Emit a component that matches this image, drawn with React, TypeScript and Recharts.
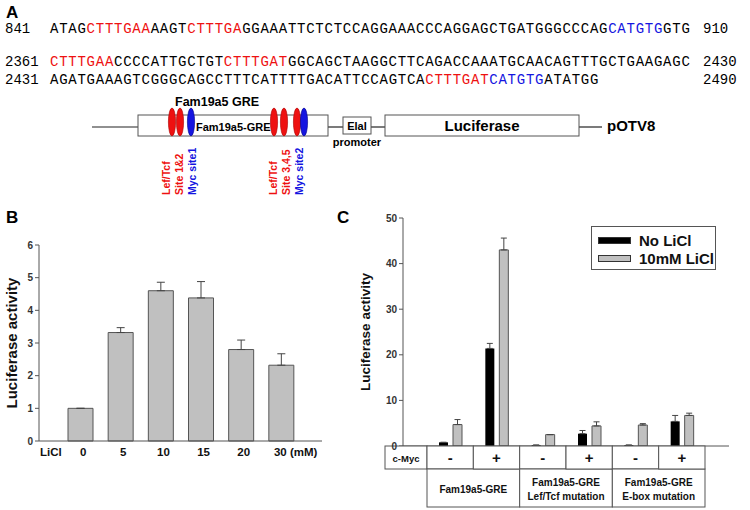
import React from 'react'
import { BarChart, Bar, XAxis, YAxis, ErrorBar, Legend } from 'recharts'

// panel B: LiCl dose response
const doses = ['0', '5', '10', '15', '20', '30']
const doseActivity = [1.0, 3.32, 4.6, 4.38, 2.8, 2.32]
const doseSem = [0, 0.15, 0.26, 0.5, 0.29, 0.35]
const doseTicks = [0, 1, 2, 3, 4, 5, 6]

// panel C: c-Myc x LiCl
const cMyc = ['-', '+', '-', '+', '-', '+']
const noLiCl = [0.8, 21.4, 0.2, 2.7, 0.2, 5.4]
const noLiClSem = [0, 1.1, 0, 0.7, 0, 1.3]
const withLiCl = [4.7, 43.0, 2.5, 4.4, 4.6, 6.7]
const withLiClSem = [1.1, 2.6, 0, 0.9, 0.3, 0.5]
const constructs = [['Fam19a5-GRE'], ['Fam19a5-GRE', 'Lef/Tcf mutation'], ['Fam19a5-GRE', 'E-box mutation']]
const mycTicks = [0, 10, 20, 30, 40, 50]

// panel A: sequence rows, k = black, r = Lef/Tcf, b = E-box
const seqRows = [
  { start: '841', end: '910', segs: [['ATAG', 'k'], ['CTTTGAA', 'r'], ['AAGT', 'k'], ['CTTTGA', 'r'], ['GGAAATTCTCTCCAGGAAACCCAGGAGCTGATGGGCCCAG', 'k'], ['CATGTG', 'b'], ['GTG', 'k']] },
  { start: '2361', end: '2430', segs: [['CTTTGAA', 'r'], ['CCCCATTGCTGT', 'k'], ['CTTTGAT', 'r'], ['GGCAGCTAAGGCTTCAGACCAAATGCAACAGTTTGCTGAAGAGC', 'k']] },
  { start: '2431', end: '2490', segs: [['AGATGAAAGTCGGGCAGCCTTTCATTTTGACATTCCAGTCA', 'k'], ['CTTTGAT', 'r'], ['CATGTG', 'b'], ['ATATGG', 'k']] },
]

const RED = '#ee1111'
const BLUE = '#1515e0'
const segColor: Record<string, string> = { k: '#000', r: RED, b: BLUE }
const SANS = '"Liberation Sans", Arial, sans-serif'
const MONO = '"Liberation Mono", "DejaVu Sans Mono", monospace'
const CHAR_W = 9.14

const doseData = doses.map((d, i) => ({ dose: d, activity: doseActivity[i], err: [0, doseSem[i]] }))
const mycData = cMyc.map((m, i) => ({
  myc: m,
  no: noLiCl[i],
  noErr: [0, noLiClSem[i]],
  li: withLiCl[i],
  liErr: [0, withLiClSem[i]],
}))

function PanelA() {
  const rowY = [33, 66, 84]
  const siteLabel = (x: number, lines: [string, string][]) =>
    lines.map(([t, c], i) => (
      <text key={i} x={x + i * 13} y={195} transform={`rotate(-90 ${x + i * 13} 195)`} fill={c}
        fontSize={10.5} fontWeight="bold" fontFamily={SANS}>{t}</text>
    ))
  const oval = (x: number, c: string, k: number) => (
    <ellipse key={k} cx={x} cy={122} rx={3.6} ry={14} fill={c} stroke={c === RED ? '#a00' : '#008'} strokeWidth={0.6} />
  )
  return (
    <svg width={750} height={240} style={{ position: 'absolute', left: 0, top: 0 }}>
      <text x={6} y={18} fontSize={17} fontWeight="bold" fontFamily={SANS}>A</text>
      {seqRows.map((r, i) => {
        const n = r.segs.reduce((s, g) => s + g[0].length, 0)
        return (
          <g key={i} fontFamily={MONO} fontSize={14}>
            <text x={5} y={rowY[i]}>{r.start}</text>
            <text x={50} y={rowY[i]} textLength={n * CHAR_W} lengthAdjust="spacing">
              {r.segs.map((g, j) => <tspan key={j} fill={segColor[g[1]]}>{g[0]}</tspan>)}
            </text>
            <text x={703} y={rowY[i]}>{r.end}</text>
          </g>
        )
      })}
      <text x={175} y={106} fontSize={12.5} fontWeight="bold" fontFamily={SANS}>Fam19a5 GRE</text>
      <g stroke="#222" strokeWidth={1.2}>
        <line x1={92} y1={127} x2={138} y2={127} />
        <line x1={328} y1={127} x2={343} y2={127} />
        <line x1={371} y1={127} x2={385} y2={127} />
        <line x1={579} y1={127} x2={602} y2={127} />
      </g>
      <g fill="#fff" stroke="#555" strokeWidth={1}>
        <rect x={138} y={115} width={190} height={21} />
        <rect x={343} y={117} width={28} height={17} />
        <rect x={385} y={115} width={194} height={21} />
      </g>
      <text x={196} y={131} fontSize={11} fontWeight="bold" fontFamily={SANS}>Fam19a5-GRE</text>
      {[[172, RED], [180, RED], [191, BLUE], [274, RED], [284, RED], [297, RED], [304, BLUE]].map((o, k) => oval(o[0] as number, o[1] as string, k))}
      <text x={357} y={130} fontSize={11} fontWeight="bold" fontFamily={SANS} textAnchor="middle">Elal</text>
      <text x={357} y={146} fontSize={11} fontWeight="bold" fontFamily={SANS} textAnchor="middle">promoter</text>
      <text x={482} y={131} fontSize={15} fontWeight="bold" fontFamily={SANS} textAnchor="middle">Luciferase</text>
      <text x={607} y={131} fontSize={15} fontWeight="bold" fontFamily={SANS}>pOTV8</text>
      {siteLabel(170, [['Lef/Tcf', RED], ['Site 1&2', RED], ['Myc site1', BLUE]])}
      {siteLabel(277, [['Lef/Tcf', RED], ['Site 3,4,5', RED], ['Myc site2', BLUE]])}
      <text x={6} y={223} fontSize={17} fontWeight="bold" fontFamily={SANS}>B</text>
      <text x={337} y={223} fontSize={17} fontWeight="bold" fontFamily={SANS}>C</text>
    </svg>
  )
}

const DoseTick = (p: any) => {
  const { x, y, payload, index } = p
  const last = index === doses.length - 1
  return (
    <g fontFamily={SANS} fontSize={11.5} fontWeight="bold" fill="#111">
      {index === 0 && <text x={x - 40} y={y + 15} fill="#111">LiCl</text>}
      <text x={last ? x - 7 : x + 3} y={y + 15} textAnchor={last ? 'start' : 'middle'} fill="#111">
        {last ? `${payload.value} (mM)` : payload.value}
      </text>
    </g>
  )
}

const CELL = 46.33
const TableTick = (p: any) => {
  const { x, y, payload, index } = p
  const left = x - CELL / 2
  const g = constructs[Math.floor(index / 2)]
  return (
    <g fontFamily={SANS} fontWeight="bold" fill="#111">
      {index === 0 && (
        <g>
          <rect x={left - 42} y={y} width={42} height={23} fill="#fff" stroke="#555" />
          <text x={left - 21} y={y + 16} fontSize={9.5} textAnchor="middle" fill="#111">c-Myc</text>
        </g>
      )}
      <rect x={left} y={y} width={CELL} height={23} fill="#fff" stroke="#555" />
      <text x={x} y={y + 17} fontSize={15} textAnchor="middle" fill="#111">{payload.value}</text>
      {index % 2 === 0 && (
        <g>
          <rect x={left} y={y + 23} width={CELL * 2} height={38} fill="#fff" stroke="#555" />
          {g.map((t, i) => (
            <text key={i} x={left + CELL} y={y + 23 + (g.length === 1 ? 24 : 17 + i * 14)} fontSize={10}
              textAnchor="middle" fill="#111">{t}</text>
          ))}
        </g>
      )}
    </g>
  )
}

const LegendBox = () => (
  <div style={{ border: '1px solid #555', background: '#fff', width: 125, height: 44, fontFamily: SANS, fontWeight: 'bold', fontSize: 15, color: '#111', boxSizing: 'border-box', padding: '4px 0 0 6px' }}>
    {[['#000', 'No LiCl'], ['#c0c0c0', '10mM LiCl']].map(([c, t]) => (
      <div key={t} style={{ display: 'flex', alignItems: 'center', height: 18 }}>
        <span style={{ display: 'inline-block', width: 31, height: 5, background: c, border: '1px solid #333', marginRight: 8 }} />
        {t}
      </div>
    ))}
  </div>
)

const axisTick = { fontSize: 10, fontWeight: 'bold', fill: '#333', fontFamily: SANS }

export default function App() {
  return (
    <div style={{ position: 'absolute', left: 0, top: 0, width: 750, height: 510, background: '#fff' }}>
      <PanelA />
      <div style={{ position: 'absolute', left: 0, top: 200 }}>
        <BarChart width={330} height={290} data={doseData} margin={{ top: 45, right: 8, left: 0, bottom: 19 }} barSize={25}>
          <XAxis dataKey="dose" padding={{ left: 21, right: 21 }} tickLine={false} tickSize={0} tickMargin={0}
            stroke="#555" tick={<DoseTick />} interval={0} height={30} />
          <XAxis xAxisId="top" dataKey="dose" orientation="top" height={0} tick={false} tickLine={false} stroke="#555" />
          <YAxis domain={[0, 6]} ticks={doseTicks} width={39} tickSize={4} stroke="#555" tick={axisTick}
            label={{ value: 'Luciferase activity', angle: -90, position: 'insideLeft', offset: 12, style: { textAnchor: 'middle', fontFamily: SANS, fontWeight: 'bold', fontSize: 15, fill: '#111' } }} />
          <YAxis yAxisId="right" orientation="right" width={0} tick={false} tickLine={false} stroke="#555" />
          <Bar dataKey="activity" fill="#c0c0c0" stroke="#555" strokeWidth={1} isAnimationActive={false}>
            <ErrorBar dataKey="err" width={4} stroke="#444" strokeWidth={1} isAnimationActive={false} />
          </Bar>
        </BarChart>
      </div>
      <div style={{ position: 'absolute', left: 330, top: 200 }}>
        <BarChart width={420} height={310} data={mycData} margin={{ top: 18, right: 21, left: 0, bottom: 0 }} barSize={9} barGap={5}>
          <XAxis dataKey="myc" padding={{ left: 24, right: 24 }} tickLine={false} tickSize={0} tickMargin={0}
            stroke="#555" tick={<TableTick />} interval={0} height={64} />
          <XAxis xAxisId="top" dataKey="myc" orientation="top" height={0} tick={false} tickLine={false} stroke="#555" />
          <YAxis domain={[0, 50]} ticks={mycTicks} width={73} tickSize={4} stroke="#555" tick={axisTick}
            label={{ value: 'Luciferase activity', angle: -90, position: 'insideLeft', offset: 35, style: { textAnchor: 'middle', fontFamily: SANS, fontWeight: 'bold', fontSize: 13.5, fill: '#111' } }} />
          <YAxis yAxisId="right" orientation="right" width={0} tick={false} tickLine={false} stroke="#555" />
          <Legend layout="vertical" align="center" verticalAlign="middle" content={() => <LegendBox />}
            wrapperStyle={{ top: 26, left: 261, width: 127, height: 46 }} />
          <Bar dataKey="no" name="No LiCl" fill="#000" isAnimationActive={false}>
            <ErrorBar dataKey="noErr" width={3} stroke="#444" strokeWidth={1} isAnimationActive={false} />
          </Bar>
          <Bar dataKey="li" name="10mM LiCl" fill="#c0c0c0" stroke="#555" strokeWidth={1} isAnimationActive={false}>
            <ErrorBar dataKey="liErr" width={3} stroke="#444" strokeWidth={1} isAnimationActive={false} />
          </Bar>
        </BarChart>
      </div>
    </div>
  )
}
